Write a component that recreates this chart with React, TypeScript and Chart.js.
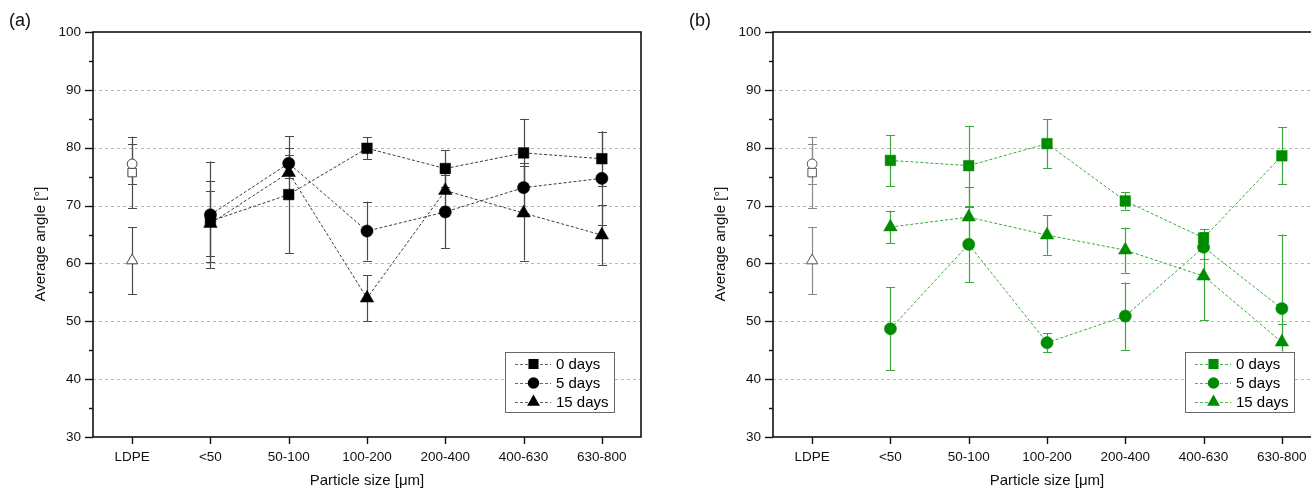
import React, { useEffect, useRef } from 'react';
import { Chart, registerables } from 'chart.js';

Chart.register(...registerables);

// ---------- data ----------
const categories = ['LDPE', '<50', '50-100', '100-200', '200-400', '400-630', '630-800'];
const seriesNames = ['0 days', '5 days', '15 days'];
const yMin = 30;
const yMax = 100;
const gridValues = [40, 50, 60, 70, 80, 90];

// LDPE reference (0, 5, 15 days) - open markers
const ldpeMean = [75.7, 77.2, 60.5];
const ldpeErr = [6.2, 3.4, 5.8];

// Panel (a): values for <50 ... 630-800
const a0Days = [67.3, 71.9, 79.9, 76.4, 79.1, 78.1];
const a0Err = [7.0, 10.1, 1.9, 3.2, 5.9, 4.7];
const a5Days = [68.4, 77.3, 65.6, 68.9, 73.1, 74.7];
const a5Err = [9.2, 2.6, 5.1, 6.3, 4.3, 8.1];
const a15Days = [66.9, 75.7, 54.0, 72.6, 68.7, 64.9];
const a15Err = [5.6, 3.0, 4.0, 3.0, 8.2, 5.2];

// Panel (b)
const b0Days = [77.8, 76.9, 80.7, 70.8, 64.4, 78.6];
const b0Err = [4.4, 6.9, 4.2, 1.5, 1.6, 4.9];
const b5Days = [48.7, 63.3, 46.3, 50.9, 62.8, 52.2];
const b5Err = [7.2, 6.5, 1.6, 5.8, 2.1, 12.8];
const b15Days = [66.3, 68.0, 64.9, 62.3, 57.8, 46.4];
const b15Err = [2.8, 5.2, 3.4, 3.9, 7.6, 3.2];

const FONT = "'Liberation Sans', Arial, Helvetica, sans-serif";
const pointStyles = ['rect', 'circle', 'triangle'];
const filledRadius = [7.5, 6.1, 7.8];
const openRadius = [6.0, 4.9, 6.6];

type PanelCfg = {
  label: string;
  series: number[][];
  errs: number[][];
  marker: string;
  line: string;
  lineDash: number[];
  err: string;
  ldpeStroke: string;
  ldpeErrColor: string;
  legendLine: string;
};

const panelA: PanelCfg = {
  label: '(a)',
  series: [a0Days, a5Days, a15Days],
  errs: [a0Err, a5Err, a15Err],
  marker: '#000000',
  line: '#3c3c3c',
  lineDash: [3, 2],
  err: '#4a4a4a',
  ldpeStroke: '#444444',
  ldpeErrColor: '#4a4a4a',
  legendLine: '#666666',
};

const panelB: PanelCfg = {
  label: '(b)',
  series: [b0Days, b5Days, b15Days],
  errs: [b0Err, b5Err, b15Err],
  marker: '#008c00',
  line: '#34ac34',
  lineDash: [3, 2],
  err: '#3aa83a',
  ldpeStroke: '#555555',
  ldpeErrColor: '#8a8a8a',
  legendLine: '#4cb84c',
};

function markerPath(ctx: CanvasRenderingContext2D, style: string, x: number, y: number, r: number) {
  ctx.beginPath();
  if (style === 'rect') {
    const s = r * Math.SQRT1_2;
    ctx.rect(x - s, y - s, 2 * s, 2 * s);
  } else if (style === 'circle') {
    ctx.arc(x, y, r, 0, Math.PI * 2);
  } else {
    let a = 0;
    ctx.moveTo(x + Math.sin(a) * r, y - Math.cos(a) * r);
    a += (2 * Math.PI) / 3;
    ctx.lineTo(x + Math.sin(a) * r, y - Math.cos(a) * r);
    a += (2 * Math.PI) / 3;
    ctx.lineTo(x + Math.sin(a) * r, y - Math.cos(a) * r);
  }
  ctx.closePath();
}

function makePlugin(cfg: PanelCfg) {
  return {
    id: 'panelDecor' + cfg.label,
    beforeDatasetsDraw(chart: any) {
      const { ctx, chartArea } = chart;
      const xs = chart.scales.x;
      const ys = chart.scales.y;
      ctx.save();
      // grid
      ctx.strokeStyle = '#b8b8b8';
      ctx.lineWidth = 1;
      ctx.setLineDash([3, 3]);
      gridValues.forEach((v) => {
        const y = Math.round(ys.getPixelForValue(v)) + 0.5;
        ctx.beginPath();
        ctx.moveTo(chartArea.left, y);
        ctx.lineTo(chartArea.right, y);
        ctx.stroke();
      });
      ctx.setLineDash([]);
      // error bars
      const drawErr = (xi: number, v: number, e: number, color: string) => {
        const x = Math.round(xs.getPixelForValue(xi)) + 0.5;
        const y1 = ys.getPixelForValue(v + e);
        const y2 = ys.getPixelForValue(v - e);
        ctx.strokeStyle = color;
        ctx.lineWidth = 1.2;
        ctx.beginPath();
        ctx.moveTo(x, y1);
        ctx.lineTo(x, y2);
        ctx.moveTo(x - 4.5, Math.round(y1) + 0.5);
        ctx.lineTo(x + 4.5, Math.round(y1) + 0.5);
        ctx.moveTo(x - 4.5, Math.round(y2) + 0.5);
        ctx.lineTo(x + 4.5, Math.round(y2) + 0.5);
        ctx.stroke();
      };
      ldpeMean.forEach((v, k) => drawErr(0, v, ldpeErr[k], cfg.ldpeErrColor));
      cfg.series.forEach((s, k) => {
        s.forEach((v, i) => drawErr(i + 1, v, cfg.errs[k][i], cfg.err));
      });
      ctx.restore();
    },
    afterDraw(chart: any) {
      const { ctx, chartArea } = chart;
      const xs = chart.scales.x;
      const ys = chart.scales.y;
      const { left, right, top, bottom } = chartArea;
      ctx.save();
      // frame
      ctx.strokeStyle = '#111';
      ctx.lineWidth = 1.6;
      ctx.strokeRect(left, top, right - left, bottom - top);
      // y ticks
      ctx.lineWidth = 1.4;
      for (let v = yMin; v <= yMax; v += 5) {
        const y = Math.round(ys.getPixelForValue(v)) + 0.5;
        const len = v % 10 === 0 ? 8 : 4;
        ctx.beginPath();
        ctx.moveTo(left - len, y);
        ctx.lineTo(left, y);
        ctx.stroke();
      }
      // x ticks
      categories.forEach((_, i) => {
        const x = Math.round(xs.getPixelForValue(i)) + 0.5;
        ctx.beginPath();
        ctx.moveTo(x, bottom);
        ctx.lineTo(x, bottom + 7);
        ctx.stroke();
      });
      // titles
      ctx.fillStyle = '#111';
      ctx.font = `15px ${FONT}`;
      ctx.textAlign = 'center';
      ctx.textBaseline = 'middle';
      ctx.fillText('Particle size [μm]', (left + right) / 2, 481);
      ctx.save();
      ctx.translate(41, 244);
      ctx.rotate(-Math.PI / 2);
      ctx.fillText('Average angle [°]', 0, 0);
      ctx.restore();
      ctx.font = `18px ${FONT}`;
      ctx.textAlign = 'left';
      ctx.fillText(cfg.label, 9, 21);
      // legend
      const bx = right - 136;
      const by = bottom - 85.5;
      const bw = 109;
      const bh = 60;
      ctx.fillStyle = '#fff';
      ctx.fillRect(bx, by, bw, bh);
      ctx.strokeStyle = '#666';
      ctx.lineWidth = 1;
      ctx.strokeRect(Math.round(bx) + 0.5, Math.round(by) + 0.5, bw, bh);
      seriesNames.forEach((name, k) => {
        const ry = by + 12.5 + k * 19;
        ctx.strokeStyle = cfg.legendLine;
        ctx.lineWidth = 1;
        ctx.setLineDash([3, 2]);
        ctx.beginPath();
        ctx.moveTo(bx + 10, Math.round(ry) + 0.5);
        ctx.lineTo(bx + 46, Math.round(ry) + 0.5);
        ctx.stroke();
        ctx.setLineDash([]);
        markerPath(ctx, pointStyles[k], bx + 28.5, ry, filledRadius[k] * 0.95);
        ctx.fillStyle = cfg.marker;
        ctx.fill();
        ctx.fillStyle = '#000';
        ctx.font = `15px ${FONT}`;
        ctx.textAlign = 'left';
        ctx.textBaseline = 'middle';
        ctx.fillText(name, bx + 51, ry + 0.5);
      });
      ctx.restore();
    },
  };
}

function buildConfig(cfg: PanelCfg): any {
  const datasets: any[] = [];
  ldpeMean.forEach((v, k) => {
    datasets.push({
      label: 'LDPE ' + seriesNames[k],
      data: categories.map((_, i) => (i === 0 ? v : null)),
      showLine: false,
      pointStyle: pointStyles[k],
      pointRadius: openRadius[k],
      pointBackgroundColor: '#ffffff',
      pointBorderColor: cfg.ldpeStroke,
      pointBorderWidth: 1,
    });
  });
  cfg.series.forEach((s, k) => {
    datasets.push({
      label: seriesNames[k],
      data: [null, ...s],
      borderColor: cfg.line,
      borderWidth: 1,
      borderDash: cfg.lineDash,
      tension: 0,
      spanGaps: false,
      pointStyle: pointStyles[k],
      pointRadius: filledRadius[k],
      pointBackgroundColor: cfg.marker,
      pointBorderColor: cfg.marker,
      pointBorderWidth: 0.5,
    });
  });
  return {
    type: 'line',
    data: { labels: categories, datasets },
    options: {
      responsive: false,
      maintainAspectRatio: false,
      animation: false,
      events: [],
      layout: { padding: { top: 32, right: 39, bottom: 0, left: 0 } },
      plugins: { legend: { display: false }, tooltip: { enabled: false }, title: { display: false } },
      scales: {
        x: {
          type: 'category',
          offset: true,
          grid: { display: false, drawTicks: false },
          border: { display: false },
          ticks: {
            autoSkip: false,
            maxRotation: 0,
            padding: 12,
            color: '#111',
            font: { family: FONT, size: 13.5 },
          },
          afterFit: (s: any) => {
            s.height = 53;
          },
        },
        y: {
          type: 'linear',
          min: yMin,
          max: yMax,
          grid: { display: false, drawTicks: false },
          border: { display: false },
          ticks: {
            stepSize: 10,
            padding: 12,
            color: '#111',
            font: { family: FONT, size: 13.5 },
          },
          afterFit: (s: any) => {
            s.width = 93;
          },
        },
      },
    },
    plugins: [makePlugin(cfg)],
  };
}

function Panel({ cfg, left }: { cfg: PanelCfg; left: number }) {
  const ref = useRef<HTMLCanvasElement | null>(null);
  useEffect(() => {
    if (!ref.current) return;
    const chart = new Chart(ref.current, buildConfig(cfg));
    return () => chart.destroy();
  }, [cfg]);
  return (
    <canvas
      ref={ref}
      width={680}
      height={490}
      style={{ position: 'absolute', left, top: 0, width: 680, height: 490 }}
    />
  );
}

export default function App() {
  return (
    <div
      style={{
        position: 'fixed',
        left: 0,
        top: 0,
        width: 1311,
        height: 490,
        overflow: 'hidden',
        background: '#ffffff',
      }}
    >
      <Panel cfg={panelA} left={0} />
      <Panel cfg={panelB} left={680} />
    </div>
  );
}
